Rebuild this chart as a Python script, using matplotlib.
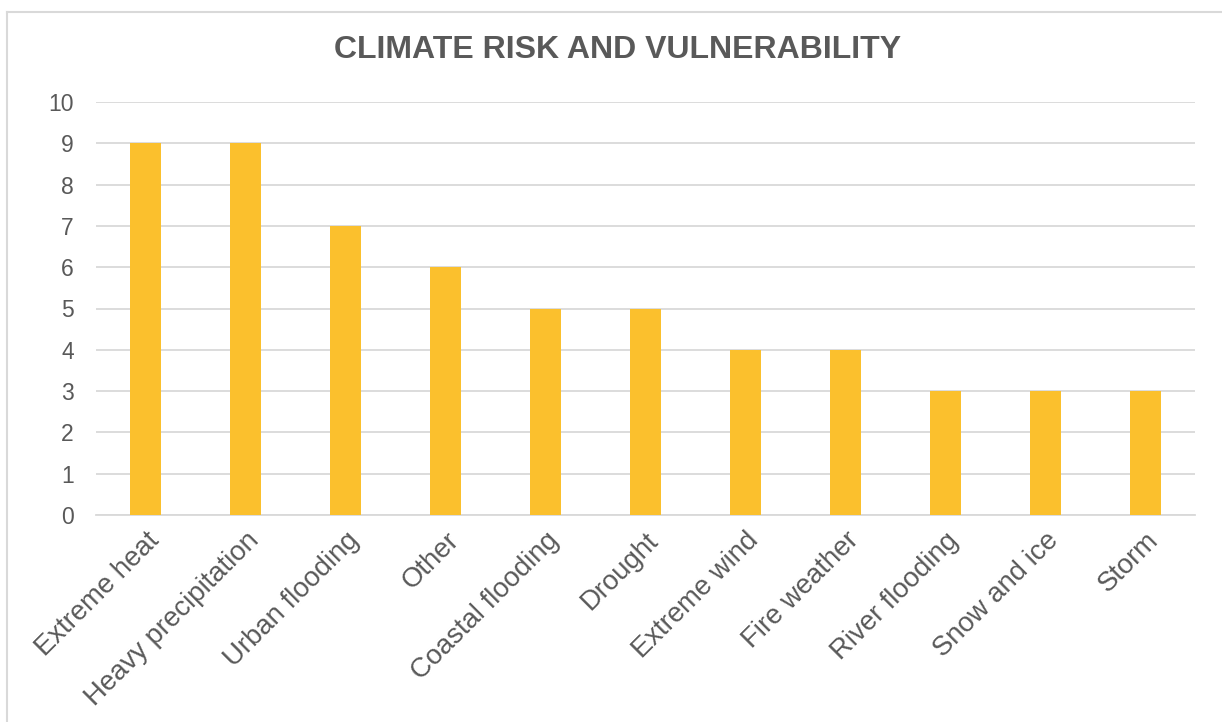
import matplotlib
matplotlib.use("Agg")
import matplotlib.pyplot as plt
from matplotlib.lines import Line2D

categories = ["Extreme heat", "Heavy precipitation", "Urban flooding", "Other",
              "Coastal flooding", "Drought", "Extreme wind", "Fire weather",
              "River flooding", "Snow and ice", "Storm"]
values = [9, 9, 7, 6, 5, 5, 4, 4, 3, 3, 3]
yticks = list(range(0, 11))

plt.rcParams['font.family'] = ['Liberation Sans', 'DejaVu Sans']
text_color = "#595959"
grid_color = "#D9D9D9"
bar_color = "#FBC02D"

fig = plt.figure(figsize=(12.22, 7.22), dpi=100)
ax = fig.add_axes([96/1222, 1-515/722, (1195-96)/1222, (515-102)/722])

x = list(range(len(categories)))
ax.bar(x, values, width=0.31, color=bar_color, zorder=3)

ax.set_xlim(-0.5, len(categories)-0.5)
ax.set_ylim(0, 10)
ax.set_yticks(yticks)
ax.yaxis.grid(True, color=grid_color, linewidth=1.3, zorder=0)
ax.set_axisbelow(True)
for s in ["top", "right", "left"]:
    ax.spines[s].set_visible(False)
ax.spines["bottom"].set_color(grid_color)
ax.spines["bottom"].set_linewidth(1.3)
ax.tick_params(axis='both', length=0, colors=text_color)
ax.tick_params(axis='y', pad=16, labelsize=16.5)
ax.set_xticks(x)
ax.set_xticklabels(categories, rotation=45, ha='right', rotation_mode='anchor')
ax.tick_params(axis='x', pad=9, labelsize=19.8)

fig.text(0.505, 1-50/722, "CLIMATE RISK AND VULNERABILITY", ha='center', va='center',
         fontsize=23, fontweight='bold', color=text_color)

# chart border (top and left visible)
fig.add_artist(Line2D([7/1222, 1.0], [1-12/722, 1-12/722], color=grid_color, linewidth=1.5))
fig.add_artist(Line2D([7/1222, 7/1222], [0, 1-12/722], color=grid_color, linewidth=1.5))

fig.savefig("out.png", dpi=100, facecolor="white")
